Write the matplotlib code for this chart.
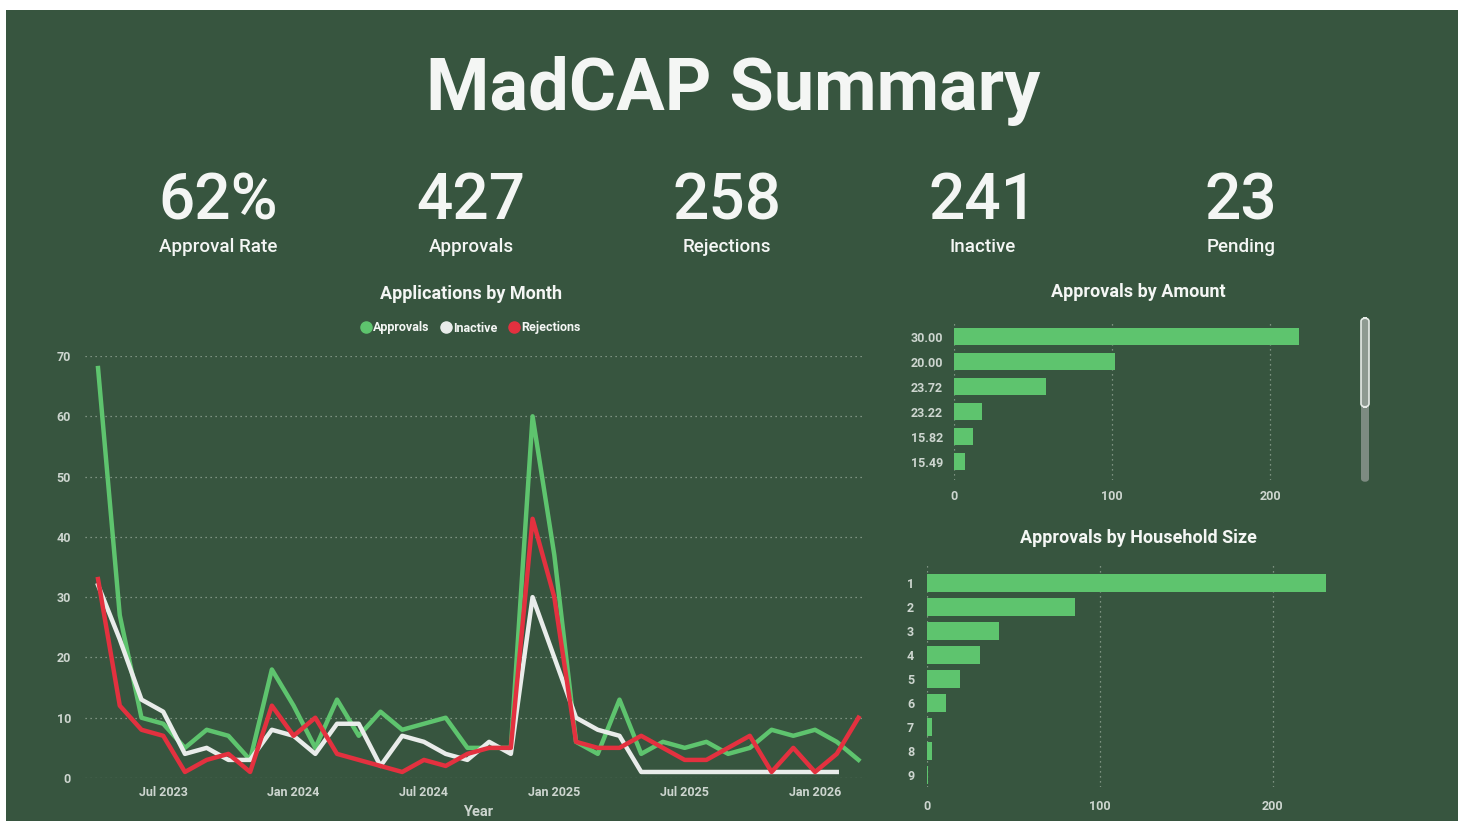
import numpy as np
import pandas as pd
import matplotlib.pyplot as plt
from matplotlib.lines import Line2D
from matplotlib.patches import Rectangle, FancyBboxPatch

# figure size in pixels (dpi 100)
W, H = 1463, 821

BG = '#37553f'
GREEN = '#5ec46e'
RED = '#e3313f'
WHITE = '#e9ecea'
TXT = '#f4f6f4'
TICK = '#cdd5cf'
GRID = '#93a596'

# ---- data ----
months = pd.date_range('2023-04-01', periods=36, freq='MS')

approvals = [68, 27, 10, 9, 5, 8, 7, 3, 18, 12, 5, 13, 7, 11, 8, 9, 10, 5,
             5, 5, 60, 37, 6, 4, 13, 4, 6, 5, 6, 4, 5, 8, 7, 8, 6, 3]
inactive = [32, 23, 13, 11, 4, 5, 3, 3, 8, 7, 4, 9, 9, 2, 7, 6, 4, 3,
            6, 4, 30, 20, 10, 8, 7, 1, 1, 1, 1, 1, 1, 1, 1, 1, 1, np.nan]
rejections = [33, 12, 8, 7, 1, 3, 4, 1, 12, 7, 10, 4, 3, 2, 1, 3, 2, 4,
              5, 5, 43, 30, 6, 5, 5, 7, 5, 3, 3, 5, 7, 1, 5, 1, 4, 10]

kpi_values = ['62%', '427', '258', '241', '23']
kpi_labels = ['Approval Rate', 'Approvals', 'Rejections', 'Inactive', 'Pending']

amount_labels = ['30.00', '20.00', '23.72', '23.22', '15.82', '15.49']
amount_counts = [218, 102, 58, 18, 12, 7]

hh_sizes = ['1', '2', '3', '4', '5', '6', '7', '8', '9']
hh_counts = [231, 86, 42, 31, 19, 11, 3, 3, 1]


def fx(px):
    return px / W


def fy(py):
    return 1 - py / H


plt.rcParams['font.family'] = ['Roboto', 'DejaVu Sans']

fig = plt.figure(figsize=(W / 100, H / 100), dpi=100)
fig.patch.set_facecolor('white')
fig.patches.append(Rectangle((fx(6), 0), fx(1458) - fx(6), fy(10), transform=fig.transFigure,
                             facecolor=BG, edgecolor='none', zorder=-10))

# ---- header ----
fig.text(fx(733), fy(110), 'MadCAP Summary', ha='center', va='baseline',
         fontsize=52, fontweight='bold', color=TXT)

kpi_x = [218, 471, 727, 983, 1241]
for xx, val, lab in zip(kpi_x, kpi_values, kpi_labels):
    fig.text(fx(xx), fy(219), val, ha='center', va='baseline', fontsize=46,
             fontweight='medium', color=TXT)
    fig.text(fx(xx), fy(247), lab, ha='center', va='center', fontsize=13.5,
             fontweight='medium', color=TXT)

# ---- line chart ----
ax = fig.add_axes([fx(85), fy(778), fx(865) - fx(85), fy(356) - fy(778)])
ax.set_facecolor('none')
x = np.arange(len(months))
ax.plot(x, approvals, color=GREEN, lw=3.2, clip_on=False, zorder=3)
ax.plot(x, inactive, color=WHITE, lw=3.2, clip_on=False, zorder=4)
ax.plot(x, rejections, color=RED, lw=3.2, clip_on=False, zorder=5)
ax.set_xlim(-0.6, 35.3)
ax.set_ylim(0, 70)
ax.set_yticks(range(0, 71, 10))
tick_idx = [i for i, m in enumerate(months) if m.month in (1, 7)]
ax.set_xticks(tick_idx)
ax.set_xticklabels([months[i].strftime('%b %Y') for i in tick_idx])
ax.grid(axis='y', color=GRID, lw=0.9, linestyle=(0, (1, 3)))
ax.tick_params(length=0, colors=TICK, labelsize=9)
ax.tick_params(axis='y', pad=10)
ax.tick_params(axis='x', pad=6)
for lbl in ax.get_xticklabels() + ax.get_yticklabels():
    lbl.set_fontweight('semibold')
for sp in ax.spines.values():
    sp.set_visible(False)

fig.text(fx(478), fy(812), 'Year', ha='center', va='center', fontsize=10.5,
         fontweight='bold', color=TICK)
fig.text(fx(471), fy(294), 'Applications by Month', ha='center', va='center',
         fontsize=13, fontweight='bold', color=TXT)

handles = [Line2D([], [], marker='o', ls='none', color=c, markersize=8)
           for c in (GREEN, WHITE, RED)]
fig.legend(handles, ['Approvals', 'Inactive', 'Rejections'], loc='center',
           bbox_to_anchor=(fx(470), fy(328)), ncol=3, frameon=False,
           handletextpad=0.1, columnspacing=0.8, handlelength=1.0,
           prop={'size': 9, 'weight': 'semibold'}, labelcolor=TXT)


# ---- bar charts ----
def style_bar_ax(a):
    a.set_facecolor('none')
    a.set_xticks([0, 100, 200])
    a.grid(axis='x', color=GRID, lw=0.9, linestyle=(0, (1, 3)))
    a.set_axisbelow(True)
    a.tick_params(length=0, colors=TICK, labelsize=9)
    for lbl in a.get_xticklabels() + a.get_yticklabels():
        lbl.set_fontweight('semibold')
    for sp in a.spines.values():
        sp.set_visible(False)


ax_amt = fig.add_axes([fx(954), fy(480), fx(1310) - fx(954), fy(323) - fy(480)])
ax_amt.barh(np.arange(len(amount_labels)), amount_counts, height=0.7, color=GREEN)
ax_amt.set_yticks(np.arange(len(amount_labels)))
ax_amt.set_yticklabels(amount_labels)
ax_amt.set_xlim(0, 225)
ax_amt.set_ylim(5.73, -0.55)
style_bar_ax(ax_amt)
ax_amt.tick_params(axis='y', pad=8)
ax_amt.tick_params(axis='x', pad=7)
fig.text(fx(1138), fy(292), 'Approvals by Amount', ha='center', va='center',
         fontsize=13, fontweight='bold', color=TXT)

# scrollbar of the amount visual
fig.patches.append(FancyBboxPatch((fx(1361), fy(482)), fx(8), fy(318) - fy(482),
                                  boxstyle='round,pad=0,rounding_size=0.004',
                                  transform=fig.transFigure, facecolor='#7d8b81',
                                  edgecolor='none'))
fig.patches.append(FancyBboxPatch((fx(1361), fy(407)), fx(8), fy(318) - fy(407),
                                  boxstyle='round,pad=0,rounding_size=0.004',
                                  transform=fig.transFigure, facecolor='#8e9a91',
                                  edgecolor='#e6ebe7', lw=1.2))

ax_hh = fig.add_axes([fx(926.7), fy(787), fx(1340) - fx(926.7), fy(565) - fy(787)])
ax_hh.barh(np.arange(len(hh_sizes)), hh_counts, height=0.76, color=GREEN)
ax_hh.set_yticks(np.arange(len(hh_sizes)))
ax_hh.set_yticklabels(hh_sizes)
ax_hh.set_xlim(0, 239)
ax_hh.set_ylim(8.5, -0.74)
style_bar_ax(ax_hh)
ax_hh.tick_params(axis='y', pad=9)
ax_hh.tick_params(axis='x', pad=9)
fig.text(fx(1138), fy(538), 'Approvals by Household Size', ha='center', va='center',
         fontsize=13, fontweight='bold', color=TXT)

fig.savefig('out.png', dpi=100, facecolor=fig.get_facecolor())
